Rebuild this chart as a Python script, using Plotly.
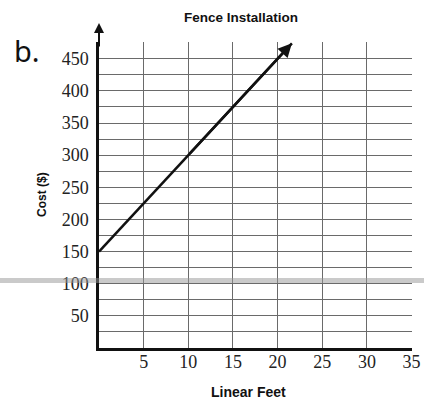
import plotly.graph_objects as go

# Data
feet = [0, 10, 21.6]
cost = [150, 300, 474]
x_ticks = [5, 10, 15, 20, 25, 30, 35]
y_ticks = [50, 100, 150, 200, 250, 300, 350, 400, 450]
title_text = "Fence Installation"
x_title = "Linear Feet"
y_title = "Cost ($)"
part_label = "b."

W, H = 424, 402
L, R, T, B = 99, 12, 42, 54
pw, ph = W - L - R, H - T - B

def px(x):  # page pixel -> paper x
    return (x - L) / pw

def py(y):  # page pixel -> paper y
    return (H - B - y) / ph

grid_col = "#6a6a6a"
serif = "Liberation Serif"
sans = "Liberation Sans"

fig = go.Figure()
fig.add_trace(go.Scatter(
    x=feet, y=cost, mode="lines",
    line=dict(color="#111111", width=2.5),
    hoverinfo="skip", showlegend=False, cliponaxis=False,
))

# arrowhead at end of cost line
fig.add_annotation(
    x=feet[-1], y=cost[-1], xref="x", yref="y",
    ax=feet[1], ay=cost[1], axref="x", ayref="y",
    showarrow=True, arrowhead=2, arrowsize=1.1, arrowwidth=2.5,
    arrowcolor="#111111", text="",
)
# y-axis arrow
fig.add_annotation(
    x=0, y=py(23), xref="x", yref="paper",
    ax=0, ay=25, showarrow=True, arrowhead=2, arrowsize=1.0,
    arrowwidth=2, arrowcolor="#111111", text="",
)

def label(text, x, y, size, family, angle=0):
    fig.add_annotation(text=text, x=px(x), y=py(y), xref="paper", yref="paper",
                       xanchor="center", yanchor="middle", showarrow=False,
                       textangle=angle, font=dict(family=family, size=size, color="#111111"))

label("<b>" + title_text + "</b>", 241, 17, 13.5, sans)
label("<b>" + x_title + "</b>", 248, 392, 14, sans)
label("<b>" + y_title + "</b>", 42, 195, 12, sans, angle=-90)
label(part_label, 27, 50, 29, "Noto Sans")

# gray scanning band
fig.add_shape(type="line", xref="paper", yref="paper",
              x0=px(0), x1=px(W), y0=py(280.5), y1=py(280.5),
              line=dict(color="rgba(150,150,150,0.5)", width=5), layer="above")

fig.update_xaxes(
    range=[0, 35.05], tickvals=x_ticks, ticktext=[str(v) for v in x_ticks],
    showgrid=True, gridcolor=grid_col, gridwidth=1,
    showline=True, linecolor="#111111", linewidth=2.5,
    zeroline=False, ticks="", ticklen=0, ticklabelstandoff=-4,
    tickfont=dict(family=serif, size=18, color="#222222"),
)
fig.update_yaxes(
    range=[0, 476], tickvals=y_ticks, ticktext=[str(v) for v in y_ticks],
    showgrid=True, gridcolor=grid_col, gridwidth=1,
    minor=dict(dtick=25, tick0=0, showgrid=True, gridcolor=grid_col, gridwidth=1),
    showline=True, linecolor="#111111", linewidth=2.5,
    zeroline=False, ticks="", ticklabelstandoff=4,
    tickfont=dict(family=serif, size=18, color="#222222"),
)

fig.update_layout(
    width=W, height=H,
    margin=dict(l=L, r=R, t=T, b=B, pad=0, autoexpand=False),
    paper_bgcolor="white", plot_bgcolor="white",
    showlegend=False,
)

fig.write_html(
    "out.html",
    config={"displayModeBar": False},
    post_script="document.body.style.margin='0';document.body.style.overflow='hidden';",
)
